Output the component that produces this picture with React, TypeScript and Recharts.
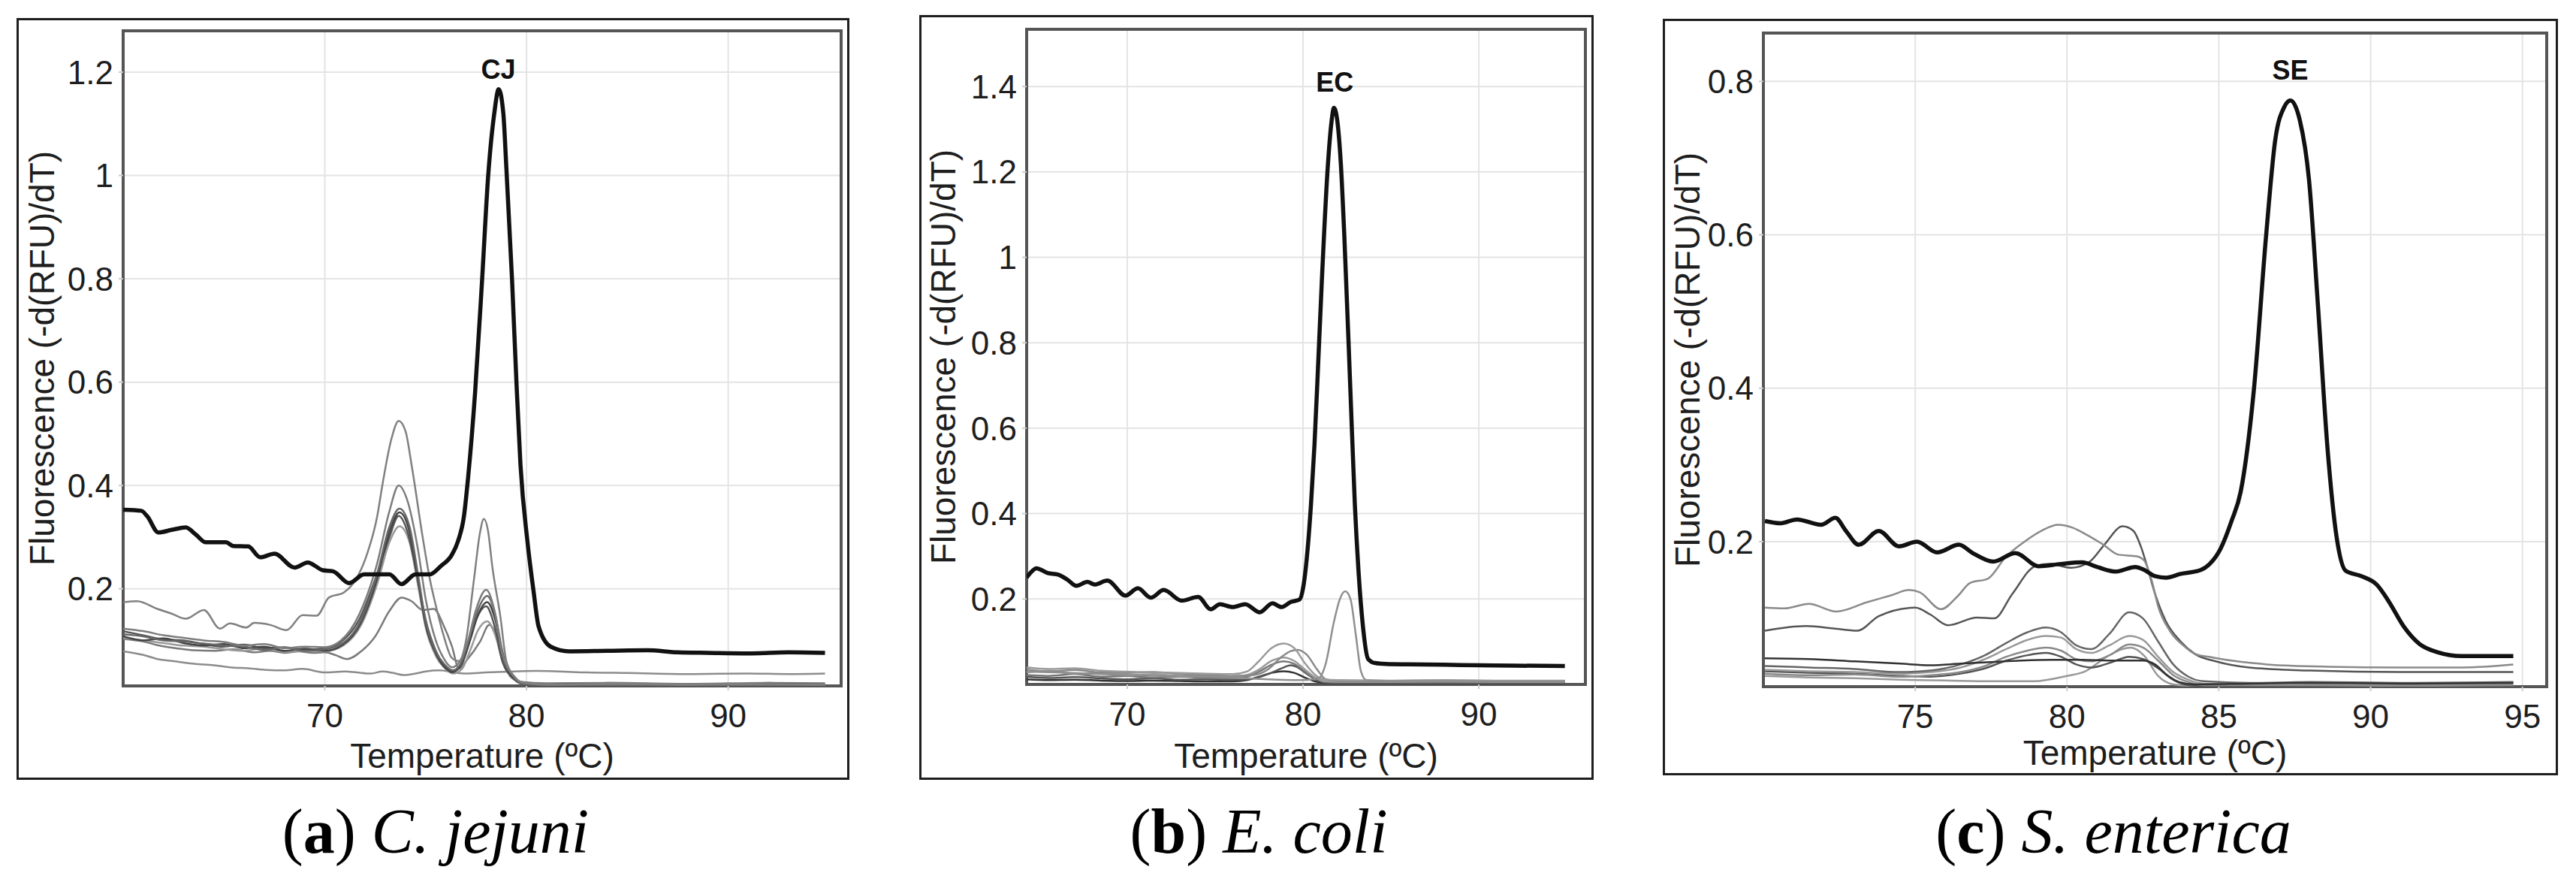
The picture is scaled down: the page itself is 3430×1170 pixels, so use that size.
import React from 'react';
import { LineChart, Line, XAxis, YAxis, CartesianGrid, ReferenceArea, ReferenceDot } from 'recharts';

const SANS = "'Liberation Sans', Arial, Helvetica, sans-serif";
const SERIF = "'Liberation Serif', 'Times New Roman', serif";

// ---------------- Panel (a) C. jejuni ----------------
const cjXTicks = [70, 80, 90];
const cjYTicks = [0.2, 0.4, 0.6, 0.8, 1, 1.2];

const cjPosT = [60, 60.9, 61.2, 61.75, 62.4, 63.1, 63.6, 64.1, 65.1, 65.45, 66.2, 66.8, 67.5, 68.5, 69.15, 69.9, 70.4, 71.2, 71.95, 73.2, 73.8, 74.5, 75.2, 75.75, 76.3, 76.6, 76.9, 77.1, 77.45, 77.8, 78.1, 78.4, 78.62, 78.85, 79.0, 79.28, 79.5, 79.7, 80.05, 80.35, 80.6, 81.2, 82.1, 84, 86, 87.5, 89, 91, 93, 94.8];
const cjPosV = [0.353, 0.351, 0.34, 0.309, 0.314, 0.319, 0.305, 0.29, 0.29, 0.283, 0.282, 0.261, 0.268, 0.241, 0.251, 0.236, 0.234, 0.211, 0.228, 0.228, 0.209, 0.228, 0.228, 0.244, 0.266, 0.292, 0.341, 0.414, 0.58, 0.8, 1.0, 1.12, 1.167, 1.12, 1.015, 0.8, 0.6, 0.44, 0.29, 0.195, 0.127, 0.088, 0.079, 0.08, 0.081, 0.077, 0.076, 0.075, 0.077, 0.076];

const cjA1T = [60, 60.7, 61.7, 62.4, 63.1, 64.0, 64.8, 65.3, 66.1, 66.5, 67.3, 68.1, 68.9, 69.6, 70.2, 70.95, 71.4, 72.1, 72.6, 72.85, 73.3, 73.66, 74.0, 74.3, 74.85, 75.2, 75.55, 75.9, 76.3, 76.65, 77.0, 77.4, 77.7, 77.88, 78.1, 78.3, 78.7, 79.0, 79.4, 79.7, 80.5, 82, 85, 88, 91, 94.8];
const cjA1V = [0.174, 0.176, 0.161, 0.152, 0.142, 0.159, 0.123, 0.133, 0.125, 0.134, 0.13, 0.12, 0.149, 0.148, 0.183, 0.193, 0.21, 0.268, 0.341, 0.4, 0.49, 0.525, 0.505, 0.44, 0.3, 0.22, 0.16, 0.108, 0.066, 0.06, 0.1, 0.22, 0.31, 0.335, 0.31, 0.244, 0.147, 0.06, 0.03, 0.02, 0.016, 0.015, 0.016, 0.015, 0.016, 0.015];

const cjBunchT1 = [60, 61, 62, 63, 64, 65, 66, 67, 68, 69, 70, 70.8, 71.7, 72.6, 73.2, 73.66, 74.1, 74.6, 75.0, 75.5, 75.9, 76.3, 76.7, 77.1, 77.5, 78.0, 78.4, 78.8, 79.4, 79.8, 81, 84, 88, 92, 94.8];
const cjBunchT2 = [60, 61, 62, 63, 64, 65, 66, 67, 68, 69, 70, 70.9, 71.8, 72.6, 73.2, 73.7, 74.2, 74.65, 75.0, 75.5, 75.9, 76.35, 76.8, 77.2, 77.6, 78.05, 78.45, 78.85, 79.4, 79.8, 81, 84, 88, 92, 94.8];
const cjA2V = [0.123, 0.118, 0.11, 0.105, 0.1, 0.097, 0.09, 0.093, 0.085, 0.088, 0.087, 0.1, 0.15, 0.25, 0.35, 0.40, 0.37, 0.28, 0.18, 0.1, 0.065, 0.048, 0.06, 0.1, 0.16, 0.198, 0.16, 0.074, 0.03, 0.018, 0.014, 0.016, 0.014, 0.015, 0.014];
const cjA3V = [0.112, 0.108, 0.1, 0.098, 0.094, 0.09, 0.088, 0.082, 0.086, 0.08, 0.083, 0.095, 0.14, 0.23, 0.32, 0.355, 0.32, 0.22, 0.137, 0.079, 0.055, 0.042, 0.06, 0.11, 0.16, 0.186, 0.15, 0.07, 0.028, 0.017, 0.014, 0.013, 0.015, 0.013, 0.014];
const cjA4V = [0.108, 0.1, 0.104, 0.095, 0.09, 0.093, 0.085, 0.088, 0.08, 0.084, 0.08, 0.092, 0.135, 0.22, 0.31, 0.348, 0.31, 0.21, 0.13, 0.075, 0.05, 0.04, 0.055, 0.1, 0.15, 0.174, 0.14, 0.065, 0.026, 0.018, 0.015, 0.016, 0.014, 0.016, 0.015];
const cjA5V = [0.118, 0.11, 0.102, 0.1, 0.093, 0.088, 0.092, 0.085, 0.087, 0.082, 0.085, 0.097, 0.14, 0.23, 0.3, 0.341, 0.31, 0.22, 0.14, 0.08, 0.052, 0.038, 0.05, 0.09, 0.14, 0.166, 0.13, 0.06, 0.025, 0.016, 0.013, 0.014, 0.013, 0.014, 0.013];
const cjA6V = [0.105, 0.1, 0.095, 0.09, 0.088, 0.083, 0.08, 0.085, 0.078, 0.08, 0.079, 0.09, 0.13, 0.21, 0.29, 0.321, 0.29, 0.2, 0.125, 0.07, 0.048, 0.036, 0.045, 0.08, 0.12, 0.137, 0.11, 0.055, 0.024, 0.016, 0.014, 0.015, 0.013, 0.014, 0.013];

const cjA7T = [60, 61, 61.7, 62.6, 63.5, 64.5, 65.5, 66.5, 67.3, 68, 68.7, 69.4, 70, 70.5, 71.1, 71.8, 72.5, 73.2, 73.8, 74.3, 74.85, 75.4, 75.9, 76.3, 76.65, 77.0, 77.7, 78.15, 78.65, 79.2, 79.7, 81, 84, 88, 92, 94.8];
const cjA7V = [0.103, 0.098, 0.091, 0.085, 0.081, 0.08, 0.083, 0.077, 0.08, 0.076, 0.079, 0.076, 0.077, 0.072, 0.064, 0.079, 0.108, 0.157, 0.183, 0.176, 0.159, 0.161, 0.128, 0.089, 0.045, 0.06, 0.098, 0.13, 0.098, 0.03, 0.02, 0.017, 0.018, 0.016, 0.018, 0.017];

const cjA8T = [60, 61, 61.7, 62.5, 63.5, 64.5, 65.3, 66.2, 67.1, 68, 68.9, 70, 71, 71.6, 72.3, 72.85, 73.4, 73.9, 74.5, 75.0, 75.7, 76.4, 77, 78, 79.4, 80.5, 81.6, 83, 85, 88.2, 91, 93, 94.8];
const cjA8V = [0.079, 0.072, 0.064, 0.06, 0.055, 0.052, 0.048, 0.046, 0.043, 0.042, 0.045, 0.038, 0.04, 0.038, 0.036, 0.04, 0.037, 0.033, 0.036, 0.04, 0.042, 0.038, 0.036, 0.038, 0.04, 0.041, 0.04, 0.038, 0.037, 0.035, 0.036, 0.035, 0.036];

// ---------------- Panel (b) E. coli ----------------
const ecXTicks = [70, 80, 90];
const ecYTicks = [0.2, 0.4, 0.6, 0.8, 1, 1.2, 1.4];

const ecPosT = [64.27, 64.5, 64.83, 65.45, 66.07, 66.6, 67.1, 67.73, 68.14, 68.86, 69.9, 70.6, 71.34, 72.07, 73.1, 74.03, 74.75, 75.27, 75.99, 76.71, 77.54, 78.26, 78.78, 79.3, 79.81, 80.0, 80.2, 80.45, 80.65, 80.85, 81.07, 81.4, 81.6, 81.76, 81.95, 82.15, 82.35, 82.7, 82.95, 83.15, 83.4, 83.7, 84.1, 84.7, 86, 88, 90, 92, 94.9];
const ecPosV = [0.25, 0.262, 0.272, 0.261, 0.257, 0.245, 0.231, 0.24, 0.234, 0.243, 0.208, 0.225, 0.203, 0.221, 0.196, 0.205, 0.176, 0.188, 0.181, 0.188, 0.169, 0.19, 0.181, 0.193, 0.199, 0.225, 0.29, 0.42, 0.56, 0.74, 0.945, 1.207, 1.31, 1.35, 1.32, 1.22, 1.05, 0.683, 0.42, 0.27, 0.14, 0.06, 0.05, 0.048, 0.047, 0.046, 0.045, 0.044, 0.043];

const ecB1T = [64.27, 66, 68, 70, 72, 74, 76, 78, 80, 80.9, 81.3, 81.75, 82.1, 82.4, 82.7, 83.0, 83.3, 83.6, 85, 88, 91, 94.9];
const ecB1V = [0.03, 0.028, 0.025, 0.022, 0.02, 0.018, 0.016, 0.012, 0.01, 0.015, 0.05, 0.145, 0.2, 0.218, 0.2, 0.117, 0.03, 0.01, 0.008, 0.008, 0.007, 0.007];

const ecHumpT1 = [64.27, 65.5, 67, 68.5, 70, 71.5, 73, 74.5, 76, 76.8, 77.5, 78.2, 78.9, 79.5, 80.1, 80.7, 81.2, 82, 85, 88, 91, 94.9];
const ecHumpT2 = [64.27, 65.5, 67, 68.5, 70, 71.5, 73, 74.5, 76, 77.2, 78.0, 78.8, 79.3, 79.7, 80.2, 80.8, 81.3, 82, 85, 88, 91, 94.9];
const ecB2V = [0.04, 0.036, 0.038, 0.032, 0.03, 0.028, 0.027, 0.025, 0.024, 0.03, 0.055, 0.085, 0.096, 0.085, 0.05, 0.022, 0.012, 0.01, 0.009, 0.01, 0.009, 0.009];
const ecB3V = [0.035, 0.03, 0.034, 0.028, 0.027, 0.029, 0.024, 0.022, 0.02, 0.022, 0.035, 0.065, 0.078, 0.081, 0.07, 0.035, 0.012, 0.008, 0.008, 0.009, 0.008, 0.008];
const ecB4V = [0.028, 0.032, 0.025, 0.027, 0.022, 0.024, 0.02, 0.021, 0.018, 0.022, 0.035, 0.055, 0.063, 0.055, 0.035, 0.016, 0.008, 0.006, 0.006, 0.007, 0.006, 0.006];
const ecB5V = [0.022, 0.02, 0.024, 0.018, 0.02, 0.016, 0.018, 0.015, 0.014, 0.018, 0.03, 0.046, 0.054, 0.048, 0.03, 0.014, 0.006, 0.005, 0.005, 0.005, 0.005, 0.005];
const ecB6V = [0.018, 0.015, 0.017, 0.014, 0.012, 0.014, 0.011, 0.012, 0.01, 0.014, 0.024, 0.038, 0.045, 0.04, 0.025, 0.01, 0.004, 0.004, 0.004, 0.004, 0.004, 0.004];
const ecB7V = [0.012, 0.01, 0.011, 0.009, 0.008, 0.009, 0.008, 0.007, 0.007, 0.01, 0.018, 0.027, 0.031, 0.027, 0.016, 0.007, 0.003, 0.003, 0.003, 0.003, 0.003, 0.003];

// ---------------- Panel (c) S. enterica ----------------
const seXTicks = [75, 80, 85, 90, 95];
const seYTicks = [0.2, 0.4, 0.6, 0.8];

const sePosT = [70.05, 70.57, 71.1, 71.9, 72.37, 72.72, 73.14, 73.8, 74.46, 75.06, 75.72, 76.44, 76.9, 77.57, 78.3, 79.07, 79.8, 80.5, 80.99, 81.59, 82.25, 82.55, 82.9, 83.26, 83.74, 84.4, 84.7, 85.06, 85.42, 85.72, 86.15, 86.56, 86.86, 87.16, 87.36, 87.67, 87.97, 88.27, 88.58, 88.88, 89.18, 89.7, 90.2, 90.6, 91.1, 91.6, 92.2, 93.0, 94.7];
const sePosV = [0.227, 0.224, 0.229, 0.222, 0.231, 0.214, 0.196, 0.214, 0.194, 0.2, 0.186, 0.196, 0.185, 0.174, 0.185, 0.168, 0.171, 0.173, 0.167, 0.161, 0.167, 0.163, 0.155, 0.153, 0.158, 0.163, 0.171, 0.191, 0.227, 0.265, 0.396, 0.6, 0.724, 0.767, 0.775, 0.749, 0.672, 0.505, 0.322, 0.206, 0.162, 0.155, 0.144, 0.122, 0.089, 0.067, 0.056, 0.051, 0.051];

const seC1T = [70.05, 70.7, 71.5, 72.4, 73.4, 74.2, 74.8, 75.15, 75.85, 76.4, 76.8, 77.4, 78.0, 78.6, 79.2, 79.7, 80.2, 80.65, 81.2, 81.7, 82.3, 82.55, 82.8, 83.0, 83.4, 83.85, 84.2, 84.8, 85.8, 86.6, 88.6, 91, 93, 94.7];
const seC1V = [0.114, 0.113, 0.119, 0.109, 0.121, 0.13, 0.137, 0.134, 0.112, 0.129, 0.146, 0.152, 0.181, 0.2, 0.215, 0.222, 0.218, 0.209, 0.196, 0.183, 0.181, 0.175, 0.148, 0.116, 0.083, 0.064, 0.054, 0.049, 0.043, 0.04, 0.037, 0.036, 0.036, 0.04];

const seC2T = [70.05, 71.4, 72.3, 73.1, 73.8, 75.0, 75.5, 76.08, 77.04, 77.6, 78.2, 78.95, 79.43, 80.15, 80.75, 81.23, 81.83, 82.19, 82.43, 82.66, 82.9, 83.26, 83.74, 84.2, 84.9, 86, 88, 91, 94.7];
const seC2V = [0.084, 0.09, 0.087, 0.084, 0.103, 0.114, 0.105, 0.091, 0.101, 0.1, 0.132, 0.168, 0.171, 0.166, 0.174, 0.196, 0.22, 0.214, 0.194, 0.165, 0.132, 0.096, 0.07, 0.054, 0.044, 0.036, 0.032, 0.03, 0.03];

const seLowT = [70.05, 71.5, 73, 74.5, 75.5, 76.5, 77.3, 78.0, 78.7, 79.3, 79.8, 80.3, 80.8, 81.4, 82.05, 82.5, 83.0, 83.5, 84.0, 84.5, 86, 88, 91, 94.7];
const seC3V = [0.038, 0.036, 0.034, 0.03, 0.032, 0.04, 0.052, 0.068, 0.082, 0.088, 0.082, 0.065, 0.06, 0.08, 0.108, 0.1, 0.07, 0.04, 0.024, 0.018, 0.016, 0.017, 0.016, 0.017];
const seC4V = [0.033, 0.031, 0.03, 0.028, 0.03, 0.036, 0.047, 0.06, 0.072, 0.077, 0.075, 0.06, 0.055, 0.065, 0.077, 0.072, 0.05, 0.03, 0.02, 0.015, 0.014, 0.015, 0.014, 0.015];
const seC5V = [0.028, 0.026, 0.027, 0.024, 0.026, 0.03, 0.038, 0.05, 0.058, 0.062, 0.058, 0.047, 0.044, 0.052, 0.066, 0.062, 0.045, 0.026, 0.017, 0.013, 0.013, 0.013, 0.012, 0.013];
const seC8V = [0.031, 0.029, 0.028, 0.025, 0.024, 0.028, 0.035, 0.045, 0.052, 0.055, 0.05, 0.04, 0.036, 0.042, 0.05, 0.047, 0.035, 0.02, 0.013, 0.012, 0.012, 0.012, 0.012, 0.012];

const seC6T = [70.05, 71.5, 73, 74.5, 75.5, 76.5, 77.5, 78.5, 79.5, 80.5, 81.5, 82.5, 82.9, 83.3, 83.7, 84.2, 86, 88, 91, 94.7];
const seC6V = [0.048, 0.047, 0.044, 0.041, 0.039, 0.041, 0.043, 0.045, 0.046, 0.046, 0.045, 0.045, 0.04, 0.026, 0.017, 0.014, 0.015, 0.016, 0.015, 0.016];

const seC7T = [70.05, 71.5, 73, 74.5, 76, 77.5, 78.9, 80.0, 80.6, 81.35, 82.1, 82.55, 83.0, 83.5, 84.2, 86, 88, 91, 94.7];
const seC7V = [0.025, 0.023, 0.022, 0.02, 0.019, 0.018, 0.018, 0.025, 0.031, 0.051, 0.062, 0.051, 0.025, 0.014, 0.012, 0.013, 0.012, 0.013, 0.012];

// ---------------- helpers ----------------
const zip = (t: number[], v: number[]) => t.map((x, i) => ({ t: x, v: v[i] }));
const fmtY = (v: number) => String(Math.round(v * 10) / 10);

type Series = { t: number[]; v: number[]; color: string; width: number };
const thin = (t: number[], v: number[], color: string): Series => ({ t, v, color, width: 2.5 });
const thick = (t: number[], v: number[]): Series => ({ t, v, color: '#111', width: 5.5 });

function Panel(p: any) {
  const { box, plot, xDomain, yDomain, xTicks, yTicks, series, peak, yLabelX, xLabelY } = p;
  const Y_W = 100;
  const X_H = 80;
  const margin = {
    left: plot.left - box.left - Y_W,
    top: plot.top - box.top,
    right: box.left + box.width - plot.right,
    bottom: box.top + box.height - plot.bottom - X_H,
  };
  const cx = (plot.left + plot.right) / 2 - box.left;
  const cy = (plot.top + plot.bottom) / 2 - box.top;
  const lx = yLabelX - box.left;
  const ly = xLabelY - box.top;
  return (
    <div style={{ position: 'absolute', left: box.left, top: box.top, width: box.width, height: box.height }}>
      <LineChart width={box.width} height={box.height} margin={margin}>
        <CartesianGrid stroke="#e4e4e4" strokeWidth={2} />
        <XAxis
          type="number"
          dataKey="t"
          domain={xDomain}
          ticks={xTicks}
          interval={0}
          allowDataOverflow
          height={X_H}
          tickSize={6}
          tickMargin={18}
          axisLine={false}
          tickLine={{ stroke: '#cccccc', strokeWidth: 2 }}
          tick={{ fill: '#1e1e1e', fontSize: 44, fontFamily: SANS }}
          label={{
            content: () => (
              <text x={cx} y={ly} textAnchor="middle" fontSize={46} fontFamily={SANS} fill="#1e1e1e">
                Temperature (ºC)
              </text>
            ),
          }}
        />
        <YAxis
          type="number"
          domain={yDomain}
          ticks={yTicks}
          interval={0}
          allowDataOverflow
          width={Y_W}
          tickSize={6}
          tickMargin={7}
          axisLine={false}
          tickLine={{ stroke: '#cccccc', strokeWidth: 2 }}
          tick={{ fill: '#1e1e1e', fontSize: 44, fontFamily: SANS }}
          tickFormatter={fmtY}
          label={{
            content: () => (
              <text
                x={lx}
                y={cy}
                transform={`rotate(-90 ${lx} ${cy})`}
                textAnchor="middle"
                fontSize={46}
                fontFamily={SANS}
                fill="#1e1e1e"
              >
                Fluorescence (-d(RFU)/dT)
              </text>
            ),
          }}
        />
        {series.map((s: Series, i: number) => (
          <Line
            key={i}
            name={`s${i}`}
            data={zip(s.t, s.v)}
            dataKey="v"
            type="monotone"
            dot={false}
            activeDot={false}
            stroke={s.color}
            strokeWidth={s.width}
            strokeLinejoin="round"
            isAnimationActive={false}
          />
        ))}
        <ReferenceArea
          x1={xDomain[0]}
          x2={xDomain[1]}
          y1={yDomain[0]}
          y2={yDomain[1]}
          fill="none"
          fillOpacity={0}
          stroke="#555555"
          strokeWidth={4}
          ifOverflow="visible"
        />
        <ReferenceDot
          x={peak.t}
          y={peak.v}
          r={0}
          fill="none"
          stroke="none"
          ifOverflow="visible"
          label={{ value: peak.text, position: 'center', fontSize: 36, fontWeight: 700, fill: '#111', fontFamily: SANS }}
        />
      </LineChart>
      <div
        style={{
          position: 'absolute',
          left: 0,
          top: 0,
          width: box.width,
          height: box.height,
          border: '3px solid #1e1e1e',
          boxSizing: 'border-box',
          pointerEvents: 'none',
        }}
      />
    </div>
  );
}

export default function App() {
  const cjSeries: Series[] = [
    thin(cjA8T, cjA8V, '#8c8c8c'),
    thin(cjA7T, cjA7V, '#7a7a7a'),
    thin(cjBunchT2, cjA6V, '#9a9a9a'),
    thin(cjBunchT1, cjA5V, '#555555'),
    thin(cjBunchT2, cjA4V, '#444444'),
    thin(cjBunchT2, cjA3V, '#666666'),
    thin(cjBunchT1, cjA2V, '#7d7d7d'),
    thin(cjA1T, cjA1V, '#808080'),
    thick(cjPosT, cjPosV),
  ];
  const ecSeries: Series[] = [
    thin(ecHumpT1, ecB7V, '#333333'),
    thin(ecHumpT2, ecB6V, '#555555'),
    thin(ecHumpT1, ecB5V, '#777777'),
    thin(ecHumpT1, ecB4V, '#999999'),
    thin(ecHumpT2, ecB3V, '#8a8a8a'),
    thin(ecHumpT1, ecB2V, '#9a9a9a'),
    thin(ecB1T, ecB1V, '#8f8f8f'),
    thick(ecPosT, ecPosV),
  ];
  const seSeries: Series[] = [
    thin(seC7T, seC7V, '#999999'),
    thin(seLowT, seC8V, '#555555'),
    thin(seLowT, seC5V, '#8a8a8a'),
    thin(seLowT, seC4V, '#9a9a9a'),
    thin(seLowT, seC3V, '#666666'),
    thin(seC6T, seC6V, '#333333'),
    thin(seC2T, seC2V, '#555555'),
    thin(seC1T, seC1V, '#8a8a8a'),
    thick(sePosT, sePosV),
  ];

  return (
    <div style={{ position: 'absolute', left: 0, top: 0, width: 3430, height: 1170, background: '#fff', overflow: 'hidden' }}>
      <Panel
        box={{ left: 22, top: 24, width: 1109, height: 1014 }}
        plot={{ left: 164, top: 41, right: 1120, bottom: 913 }}
        xDomain={[60, 95.6]}
        yDomain={[0.012, 1.28]}
        xTicks={cjXTicks}
        yTicks={cjYTicks}
        series={cjSeries}
        peak={{ text: 'CJ', t: 78.6, v: 1.205 }}
        yLabelX={72}
        xLabelY={1022}
      />
      <Panel
        box={{ left: 1224, top: 20, width: 898, height: 1018 }}
        plot={{ left: 1367, top: 39, right: 2111, bottom: 911 }}
        xDomain={[64.27, 96.07]}
        yDomain={[0, 1.534]}
        xTicks={ecXTicks}
        yTicks={ecYTicks}
        series={ecSeries}
        peak={{ text: 'EC', t: 81.8, v: 1.41 }}
        yLabelX={1272}
        xLabelY={1022}
      />
      <Panel
        box={{ left: 2214, top: 25, width: 1192, height: 1007 }}
        plot={{ left: 2348, top: 44, right: 3391, bottom: 914 }}
        xDomain={[70, 95.8]}
        yDomain={[0.011, 0.863]}
        xTicks={seXTicks}
        yTicks={seYTicks}
        series={seSeries}
        peak={{ text: 'SE', t: 87.35, v: 0.815 }}
        yLabelX={2263}
        xLabelY={1018}
      />
      <svg width={3430} height={1170} style={{ position: 'absolute', left: 0, top: 0, pointerEvents: 'none' }}>
        <text x={580} y={1135} textAnchor="middle" fontFamily={SERIF} fontSize={84} fill="#000">
          (<tspan fontWeight="bold">a</tspan>
          {') '}
          <tspan fontStyle="italic">C. jejuni</tspan>
        </text>
        <text x={1676} y={1135} textAnchor="middle" fontFamily={SERIF} fontSize={84} fill="#000">
          (<tspan fontWeight="bold">b</tspan>
          {') '}
          <tspan fontStyle="italic">E. coli</tspan>
        </text>
        <text x={2814} y={1135} textAnchor="middle" fontFamily={SERIF} fontSize={84} fill="#000">
          (<tspan fontWeight="bold">c</tspan>
          {') '}
          <tspan fontStyle="italic">S. enterica</tspan>
        </text>
      </svg>
    </div>
  );
}
